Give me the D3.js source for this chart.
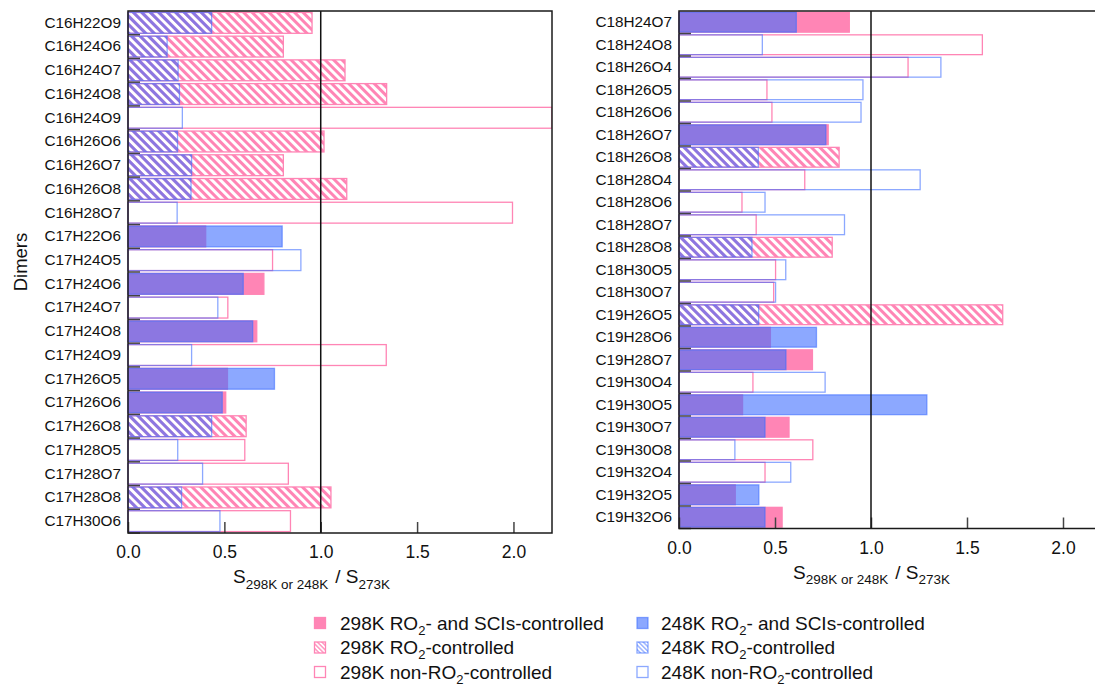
<!DOCTYPE html>
<html><head><meta charset="utf-8">
<script src="https://cdn.jsdelivr.net/npm/d3@7"></script>
<style>body{margin:0;background:#fff} svg{display:block;font-family:"Liberation Sans",Arial,Helvetica,sans-serif}</style>
</head><body><svg id="c" width="1095" height="686"></svg>
<script>
// ---------- data ----------
const leftCats = ["C16H22O9","C16H24O6","C16H24O7","C16H24O8","C16H24O9","C16H26O6","C16H26O7","C16H26O8","C16H28O7","C17H22O6","C17H24O5","C17H24O6","C17H24O7","C17H24O8","C17H24O9","C17H26O5","C17H26O6","C17H26O8","C17H28O5","C17H28O7","C17H28O8","C17H30O6"];
const left298 = [0.955,0.806,1.126,1.342,2.2,1.017,0.806,1.135,1.995,0.403,0.750,0.705,0.518,0.668,1.340,0.516,0.507,0.613,0.606,0.832,1.053,0.843];
const left248 = [0.434,0.203,0.260,0.267,0.282,0.257,0.330,0.327,0.255,0.800,0.897,0.598,0.466,0.647,0.330,0.760,0.489,0.434,0.258,0.387,0.278,0.477];
const leftTypes = ["hatch","hatch","hatch","hatch","open","hatch","hatch","hatch","open","solid","open","solid","open","solid","open","solid","solid","hatch","open","open","hatch","open"];

const rightCats = ["C18H24O7","C18H24O8","C18H26O4","C18H26O5","C18H26O6","C18H26O7","C18H26O8","C18H28O4","C18H28O6","C18H28O7","C18H28O8","C18H30O5","C18H30O7","C19H26O5","C19H28O6","C19H28O7","C19H30O4","C19H30O5","C19H30O7","C19H30O8","C19H32O4","C19H32O5","C19H32O6"];
const right298 = [0.887,1.580,1.193,0.458,0.484,0.777,0.834,0.655,0.328,0.402,0.798,0.503,0.493,1.686,0.476,0.695,0.385,0.331,0.573,0.697,0.448,0.293,0.537];
const right248 = [0.611,0.434,1.364,0.958,0.948,0.765,0.413,1.256,0.448,0.862,0.380,0.556,0.503,0.415,0.716,0.557,0.761,1.291,0.448,0.291,0.582,0.416,0.448];
const rightTypes = ["solid","open","open","open","open","solid","hatch","open","open","open","hatch","open","open","hatch","solid","solid","open","solid","solid","open","open","solid","solid"];

const xTicks = [0, 0.5, 1.0, 1.5, 2.0];
const legendLabels298 = ["298K RO|2|- and SCIs-controlled","298K RO|2|-controlled","298K non-RO|2|-controlled"];
const legendLabels248 = ["248K RO|2|- and SCIs-controlled","248K RO|2|-controlled","248K non-RO|2|-controlled"];
const legendTypes = ["solid","hatch","open"];

// ---------- styles ----------
const PINK = "#ff85b5", BLUE = "#3f6eff", BOP = 0.6;

const svg = d3.select("#c");
const defs = svg.append("defs");
function hatch(id, color, op, size){
  const p = defs.append("pattern").attr("id", id).attr("patternUnits","userSpaceOnUse")
    .attr("width", size).attr("height", size).attr("patternTransform","rotate(-45)");
  p.append("rect").attr("x",0).attr("y",0).attr("width",size/2).attr("height",size)
    .attr("fill",color).attr("fill-opacity",op);
}
hatch("hp", PINK, 1, 6);
hatch("hb", BLUE, BOP, 6);
hatch("hpL", PINK, 0.8, 3.2);
hatch("hbL", BLUE, BOP*0.8, 3.2);

function styleRect(sel, temp, type, legend){
  const isP = temp === 298;
  const col = isP ? PINK : BLUE, op = isP ? 1 : BOP;
  sel.attr("stroke", col).attr("stroke-opacity", op).attr("stroke-width", 1.3);
  if (type === "solid") sel.attr("fill", col).attr("fill-opacity", op);
  else if (type === "hatch") sel.attr("fill", `url(#${isP ? "hp" : "hb"}${legend ? "L" : ""})`);
  else sel.attr("fill", "none");
}

function panel(cfg){
  const {cats, v298, v248, types, x0, y0, w, h, id} = cfg;
  const x = d3.scaleLinear().domain([0, 2.2]).range([x0, x0 + w]);
  const yStep = d3.scaleBand().domain(cats).range([y0, y0 + h]).padding(0);
  const y = d3.scaleBand().domain(cats).range([y0, y0 + h]).paddingInner(0.12).paddingOuter(0.06);

  defs.append("clipPath").attr("id", id).append("rect")
    .attr("x", x0 - 2).attr("y", y0).attr("width", w + 2).attr("height", h);

  const g = svg.append("g").attr("clip-path", `url(#${id})`);
  cats.forEach((c, i) => {
    g.append("rect").attr("x", x(0)).attr("y", y(c)).attr("width", x(v298[i]) - x(0)).attr("height", y.bandwidth())
      .call(styleRect, 298, types[i]);
    g.append("rect").attr("x", x(0)).attr("y", y(c)).attr("width", x(v248[i]) - x(0)).attr("height", y.bandwidth())
      .call(styleRect, 248, types[i]);
  });

  // boundary ticks on y axis
  svg.append("g").selectAll("line").data(cats).join("line")
    .attr("x1", x0).attr("x2", x0 + 12)
    .attr("y1", d => yStep(d) + yStep.bandwidth()).attr("y2", d => yStep(d) + yStep.bandwidth())
    .attr("stroke", "#444").attr("stroke-width", 1.5);

  // y labels
  const ya = svg.append("g").attr("transform", `translate(${x0},0)`)
    .call(d3.axisLeft(yStep).tickSize(0).tickPadding(7));
  ya.select(".domain").remove();
  ya.selectAll("text").attr("font-size", 15.3).attr("fill", "#111").style("font-family", "Liberation Sans, Arial, sans-serif");

  // x axis
  const xa = svg.append("g").attr("transform", `translate(0,${y0 + h})`)
    .call(d3.axisBottom(x).tickValues(xTicks).tickFormat(d3.format(".1f")).tickSizeInner(-11).tickSizeOuter(0).tickPadding(13));
  xa.select(".domain").remove();
  xa.selectAll("line").attr("stroke", "#444").attr("stroke-width", 1.5);
  xa.selectAll("text").attr("font-size", 17.5).attr("fill", "#111").style("font-family", "Liberation Sans, Arial, sans-serif");

  // reference line at 1.0
  svg.append("line").attr("x1", x(1)).attr("x2", x(1)).attr("y1", y0).attr("y2", y0 + h)
    .attr("stroke", "#111").attr("stroke-width", 1.5);

  // frame
  svg.append("rect").attr("x", x0).attr("y", y0).attr("width", w).attr("height", h)
    .attr("fill", "none").attr("stroke", "#1a1a1a").attr("stroke-width", 1.5);

  // x title
  const t = svg.append("text").attr("x", cfg.titleX).attr("y", y0 + h + 50).attr("font-size", 19).attr("fill", "#111");
  t.append("tspan").text("S");
  t.append("tspan").attr("font-size", 13.5).attr("dy", 5.5).text("298K or 248K");
  t.append("tspan").attr("dy", -5.5).attr("dx", 7).text("/ S");
  t.append("tspan").attr("font-size", 13.5).attr("dy", 5.5).text("273K");
}

panel({cats: leftCats, v298: left298, v248: left248, types: leftTypes, x0: 128, y0: 11, w: 424, h: 522, id: "clipL", titleX: 233});
panel({cats: rightCats, v298: right298, v248: right248, types: rightTypes, x0: 679, y0: 11, w: 422.4, h: 517.5, id: "clipR", titleX: 793});

// y title
svg.append("text").attr("transform", "translate(27,262) rotate(-90)").attr("text-anchor", "middle")
  .attr("font-size", 18.5).attr("fill", "#111").text("Dimers");

// legend
function legendCol(labels, temp, sx, tx){
  labels.forEach((lab, i) => {
    const cy = 623 + i * 24.5;
    svg.append("rect").attr("x", sx).attr("y", cy - 5.5).attr("width", 11).attr("height", 11)
      .call(styleRect, temp, legendTypes[i], true);
    const parts = lab.split("|");
    const t = svg.append("text").attr("x", tx).attr("y", cy + 6.5).attr("font-size", 19).attr("fill", "#111");
    t.append("tspan").text(parts[0]);
    t.append("tspan").attr("font-size", 13).attr("dy", 5).text(parts[1]);
    t.append("tspan").attr("dy", -5).text(parts[2]);
  });
}
legendCol(legendLabels298, 298, 314.5, 340);
legendCol(legendLabels248, 248, 637, 661);
</script>
</body></html>
